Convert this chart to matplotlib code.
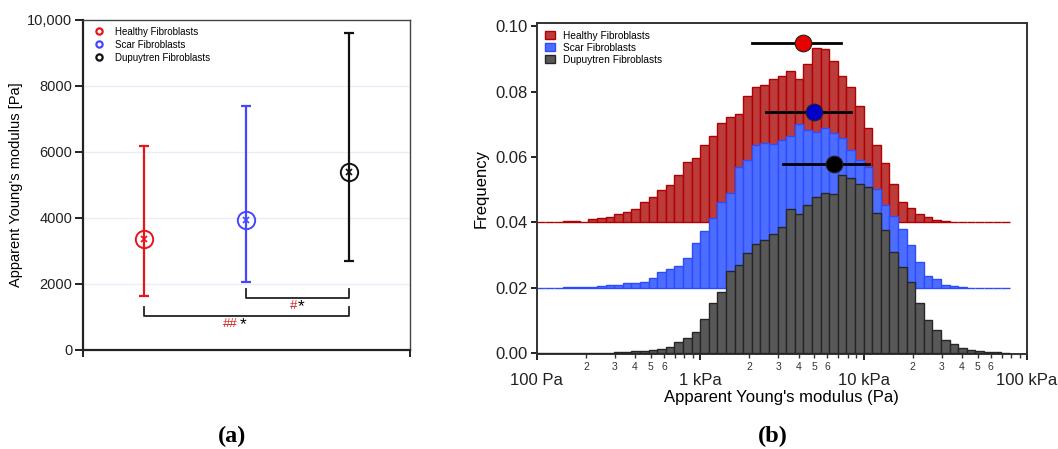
import numpy as np
import matplotlib
matplotlib.use('Agg')
import matplotlib.pyplot as plt
from matplotlib.patches import Patch
from matplotlib.lines import Line2D
from matplotlib.ticker import FixedLocator, FuncFormatter

plt.rcParams['font.family'] = ['Liberation Sans', 'DejaVu Sans']

# ---- panel (a) data ----
groups = ['Healthy Fibroblasts', 'Scar Fibroblasts', 'Dupuytren Fibroblasts']
mean_modulus = [3350, 3950, 5380]
err_low = [1650, 2050, 2700]
err_high = [6170, 7400, 9600]

# ---- panel (b) data: log-binned histograms, 19 bins per decade from 100 Pa ----
healthy_freq = [0, 0.0001, 0.0001, 0.0003, 0.0003, 0.0002, 0.0011, 0.0013, 0.0016, 0.0025,
                0.0031, 0.0041, 0.0061, 0.0079, 0.0098, 0.0113, 0.0145, 0.0184, 0.0198, 0.0238,
                0.0265, 0.0303, 0.0322, 0.0331, 0.0387, 0.0415, 0.0420, 0.0438, 0.0448, 0.0463,
                0.0440, 0.0485, 0.0533, 0.0531, 0.0494, 0.0448, 0.0413, 0.0357, 0.0288, 0.0237,
                0.0183, 0.0117, 0.0063, 0.0044, 0.0027, 0.0017, 0.0008, 0.0003, 0.0001, 0,
                0, 0, 0, 0, 0]
scar_freq = [0, 0, 0, 0.0001, 0.0002, 0.0002, 0.0003, 0.0004, 0.0008, 0.0010,
             0.0016, 0.0016, 0.0019, 0.0031, 0.0048, 0.0056, 0.0068, 0.0092, 0.0136, 0.0173,
             0.0214, 0.0262, 0.0291, 0.0371, 0.0392, 0.0437, 0.0442, 0.0440, 0.0453, 0.0465,
             0.0500, 0.0482, 0.0476, 0.0488, 0.0474, 0.0459, 0.0423, 0.0390, 0.0368, 0.0302,
             0.0254, 0.0220, 0.0180, 0.0130, 0.0080, 0.0035, 0.0028, 0.0008, 0.0005, 0.0002,
             0, 0, 0, 0, 0]
dupuytren_freq = [0, 0, 0, 0.0001, 0.0001, 0.0001, 0.0001, 0.0002, 0.0002, 0.0003,
                  0.0004, 0.0007, 0.0008, 0.0009, 0.0012, 0.0020, 0.0034, 0.0046, 0.0065, 0.0104,
                  0.0153, 0.0186, 0.0250, 0.0269, 0.0305, 0.0333, 0.0345, 0.0365, 0.0386, 0.0441,
                  0.0426, 0.0453, 0.0479, 0.0490, 0.0486, 0.0544, 0.0537, 0.0516, 0.0507, 0.0430,
                  0.0376, 0.0310, 0.0264, 0.0218, 0.0155, 0.0101, 0.0072, 0.0040, 0.0027, 0.0016,
                  0.0010, 0.0006, 0.0003, 0.0004, 0.0002]
offsets = [0.04, 0.02, 0.0]

# median and spread markers
peak_x = [4260, 4980, 6550]
peak_y = [0.0950, 0.0738, 0.0578]
spread_lo = [2090, 2520, 3200]
spread_hi = [7240, 8350, 10730]

red, blue, black = '#e8141a', '#4646ff', '#111111'
bar_faces = ['#bc3c3c', '#4d6dff', '#585858']
bar_edges = ['#b00000', '#2b4cff', '#262626']
dot_colors = ['#e60000', '#0000c8', '#000000']

fig = plt.figure(figsize=(10.58, 4.49), dpi=100)

# ================= (a) =================
ax1 = fig.add_axes([0.0782, 0.2205, 0.3093, 0.735])
xpos = np.arange(1, len(groups) + 1)
cols = [red, blue, black]
for i in range(len(groups)):
    lo = mean_modulus[i] - err_low[i]
    hi = err_high[i] - mean_modulus[i]
    ax1.errorbar(xpos[i], mean_modulus[i], yerr=[[lo], [hi]], fmt='none', ecolor=cols[i],
                 elinewidth=1.6, capsize=3.5, capthick=1.6, zorder=3)
    ax1.plot(xpos[i], mean_modulus[i], 'o', ms=12.5, mfc='none', mec=cols[i], mew=1.4, zorder=4)
    ax1.plot(xpos[i], mean_modulus[i], 'x', ms=4, mec=cols[i], mew=1.2, zorder=4)

for yv in [2000, 4000, 6000, 8000]:
    ax1.axhline(yv, color='#ececf8', lw=0.9, zorder=0)

# significance brackets
def bracket(x0, x1, y, h):
    ax1.plot([x0, x0, x1, x1], [y + h, y, y, y + h], color='#222222', lw=1.3, zorder=2)

bracket(xpos[0], xpos[2], 1030, 280)
bracket(xpos[1], xpos[2], 1585, 275)
ax1.text(1.84, 780, '##', color='#d42020', fontsize=9.5, ha='center', va='center')
ax1.text(1.97, 760, '*', color='black', fontsize=12.5, ha='center', va='center')
ax1.text(2.46, 1330, '#', color='#d42020', fontsize=9.5, ha='center', va='center')
ax1.text(2.54, 1310, '*', color='black', fontsize=12.5, ha='center', va='center')

ax1.set_xlim(0.4, 3.6)
ax1.set_ylim(0, 10000)
ax1.set_yticks([0, 2000, 4000, 6000, 8000, 10000])
ax1.yaxis.set_major_formatter(FuncFormatter(lambda v, p: f'{v:,.0f}' if v >= 10000 else f'{v:.0f}'))
ax1.set_xticks([0.4, 3.6])
ax1.set_xticklabels(['', ''])
ax1.tick_params(axis='y', direction='out', length=5.5, width=1.4, labelsize=10.5, pad=2, colors='#222222')
ax1.tick_params(axis='x', direction='out', length=5, width=1.4, colors='#222222')
ax1.set_ylabel("Apparent Young's modulus [Pa]", fontsize=10.5, labelpad=3)
for s in ['left', 'bottom']:
    ax1.spines[s].set_linewidth(1.6)
    ax1.spines[s].set_color('#222222')
for s in ['top', 'right']:
    ax1.spines[s].set_linewidth(1.0)
    ax1.spines[s].set_color('#444444')

leg_handles = [Line2D([], [], marker='o', ls='none', ms=4.5, mfc='none', mec=c, mew=1.6) for c in cols]
ax1.legend(leg_handles, groups, loc='upper left', frameon=False, fontsize=7,
           handletextpad=0.6, labelspacing=0.3, borderaxespad=0.3, bbox_to_anchor=(0.0, 1.0))

# ================= (b) =================
ax2 = fig.add_axes([0.5073, 0.2105, 0.4634, 0.739])
n_bins = len(dupuytren_freq)
edges = 10 ** (2 + np.arange(n_bins + 1) / 19)
series = [healthy_freq, scar_freq, dupuytren_freq]
for i in range(3):
    ax2.bar(edges[:-1], series[i], width=np.diff(edges), align='edge', bottom=offsets[i],
            color=bar_faces[i], edgecolor=bar_edges[i], linewidth=1.0, zorder=1 + i,
            label=groups[i])

for i in range(3):
    ax2.plot([spread_lo[i], spread_hi[i]], [peak_y[i], peak_y[i]], color='black', lw=2, zorder=6)
    ax2.plot(peak_x[i], peak_y[i], 'o', ms=12, mfc=dot_colors[i], mec='#222222', mew=0.8, zorder=7)

ax2.set_xscale('log')
ax2.set_xlim(100, 100000)
ax2.set_ylim(-0.0004, 0.1011)
ax2.set_yticks([0.0, 0.02, 0.04, 0.06, 0.08, 0.10])
ax2.yaxis.set_major_formatter(FuncFormatter(lambda v, p: f'{v:.2f}'))
ax2.set_xticks([100, 1000, 10000, 100000])
ax2.set_xticklabels(['100 Pa', '1 kPa', '10 kPa', '100 kPa'])
minor = [m * 10 ** d for d in range(2, 5) for m in range(2, 10)]
ax2.xaxis.set_minor_locator(FixedLocator(minor))
ax2.xaxis.set_minor_formatter(FuncFormatter(
    lambda v, p: str(int(round(v / 10 ** np.floor(np.log10(v) + 1e-9)))) if round(v / 10 ** np.floor(np.log10(v) + 1e-9)) <= 6 else ''))
ax2.tick_params(axis='x', which='major', direction='out', length=4.5, width=1.4, labelsize=12, pad=9.0, colors='#222222')
ax2.tick_params(axis='x', which='minor', direction='out', length=3, width=1.0, labelsize=7.5, pad=2.5, colors='#333333')
ax2.tick_params(axis='y', direction='out', length=4.5, width=1.4, labelsize=12, pad=2, colors='#222222')
ax2.set_xlabel("Apparent Young's modulus (Pa)", fontsize=12, labelpad=1)
ax2.set_ylabel('Frequency', fontsize=12, labelpad=5)
for s in ax2.spines.values():
    s.set_linewidth(1.4)
    s.set_color('#333333')

patch_handles = [Patch(facecolor=bar_faces[i], edgecolor=bar_edges[i], linewidth=1.0) for i in range(3)]
ax2.legend(patch_handles, groups, loc='upper left', frameon=False, fontsize=7.3,
           handlelength=1.0, handleheight=0.8, handletextpad=0.8, labelspacing=0.2,
           borderaxespad=0.4)

# panel captions
fig.text(0.219, 0.027, '(a)', fontsize=17.5, fontweight='bold', family='Liberation Serif', ha='center', va='center')
fig.text(0.730, 0.027, '(b)', fontsize=17.5, fontweight='bold', family='Liberation Serif', ha='center', va='center')

fig.savefig('out.png', dpi=100)
